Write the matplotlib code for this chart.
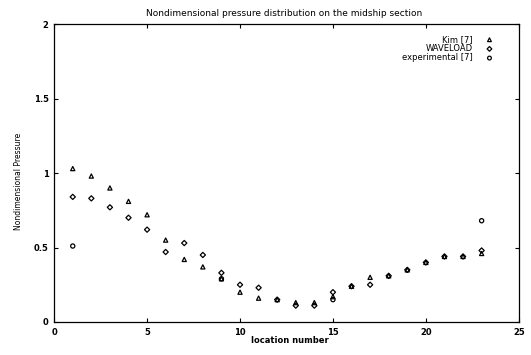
import numpy as np
import matplotlib
matplotlib.use('Agg')
import matplotlib.pyplot as plt

# location numbers along the midship section
loc = [1, 2, 3, 4, 5, 6, 7, 8, 9, 10, 11, 12, 13, 14, 15, 16, 17, 18, 19, 20, 21, 22, 23]

kim = [1.03, 0.98, 0.90, 0.81, 0.72, 0.55, 0.42, 0.37, 0.29, 0.20, 0.16, 0.15, 0.13,
       0.13, 0.17, 0.24, 0.30, 0.31, 0.35, 0.40, 0.44, 0.44, 0.46]
waveload = [0.84, 0.83, 0.77, 0.70, 0.62, 0.47, 0.53, 0.45, 0.33, 0.25, 0.23, 0.15, 0.11,
            0.11, 0.20, 0.24, 0.25, 0.31, 0.35, 0.40, 0.44, 0.44, 0.48]
exp_loc = [1, 9, 15, 23]
experimental = [0.51, 0.29, 0.15, 0.68]

xticks = [0, 5, 10, 15, 20, 25]
yticks = [0, 0.5, 1, 1.5, 2]
ytick_labels = ['0', '0.5', '1', '1.5', '2']

fig = plt.figure(figsize=(5.31, 3.55), dpi=100)
ax = fig.add_axes([0.102, 0.093, 0.875, 0.839])

ax.scatter(loc, kim, marker='^', s=9, facecolors='none', edgecolors='black',
           linewidths=0.9, label='Kim [7]')
ax.scatter(loc, waveload, marker='D', s=7, facecolors='none', edgecolors='black',
           linewidths=0.9, label='WAVELOAD')
ax.scatter(exp_loc, experimental, marker='o', s=9, facecolors='none', edgecolors='black',
           linewidths=0.9, label='experimental [7]')

ax.set_xlim(0, 25)
ax.set_ylim(0, 2)
ax.set_xticks(xticks)
ax.set_xticklabels([str(t) for t in xticks], fontsize=6, fontweight='bold')
ax.set_yticks(yticks)
ax.set_yticklabels(ytick_labels, fontsize=6, fontweight='bold')
ax.tick_params(direction='in', top=True, right=True, length=3, width=0.8, pad=4)
for sp in ax.spines.values():
    sp.set_linewidth(0.9)

leg = ax.legend(loc='upper right', bbox_to_anchor=(0.962, 0.975), fontsize=6,
                frameon=False, markerfirst=False, handletextpad=1.0,
                borderaxespad=0.0, labelspacing=0.02, markerscale=0.9)
for t in leg.get_texts():
    t.set_ha('right')

fig.text(0.535, 0.962, 'Nondimensional pressure distribution on the midship section',
         ha='center', va='center', fontsize=6.5)
fig.text(0.546, 0.042, 'location number', ha='center', va='center', fontsize=6,
         fontweight='bold')
fig.text(0.034, 0.49, 'Nondimensional Pressure', ha='center', va='center',
         rotation=90, fontsize=5.5)

fig.savefig('out.png', dpi=100)
